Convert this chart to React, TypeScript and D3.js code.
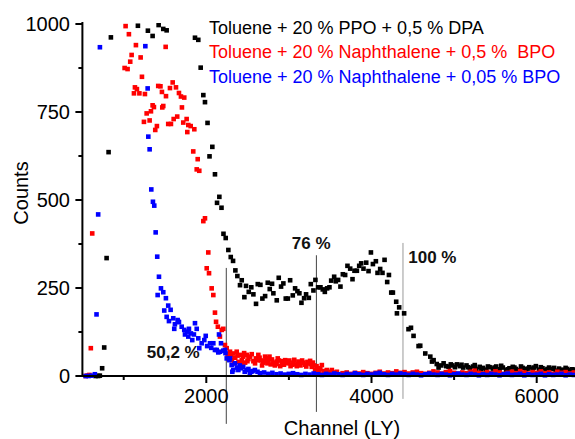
import React from "react";
import * as d3 from "d3";

// ---- data (channel, counts) ----
const blackSeries: [number, number][] = [
  [660, 0], [690, 0], [711, 1], [739, 22], [764, 81], [793, 335], [817, 636], [845, 962],
  [1172, 995], [1293, 981], [1350, 966], [1423, 997], [1479, 986], [1520, 982], [1863, 961], [1903, 955],
  [1932, 876], [1964, 798], [1984, 778], [2015, 719], [2039, 624], [2073, 651], [2105, 573], [2130, 492],
  [2158, 509], [2184, 478], [2208, 404], [2235, 392], [2267, 358], [2296, 338], [2324, 327], [2352, 300],
  [2376, 284], [2408, 258], [2429, 272], [2461, 224], [2481, 256], [2514, 239], [2545, 252], [2570, 232],
  [2602, 205], [2623, 261], [2655, 259], [2679, 220], [2712, 227], [2744, 265], [2768, 247], [2796, 262],
  [2812, 235], [2853, 215], [2877, 279], [2905, 254], [2933, 263], [2962, 220], [2987, 220], [3015, 272],
  [3047, 229], [3075, 249], [3103, 241], [3127, 235], [3152, 208], [3184, 221], [3208, 232], [3241, 222],
  [3265, 261], [3297, 243], [3321, 273], [3354, 252], [3382, 252], [3410, 246], [3435, 239], [3463, 249],
  [3491, 252], [3512, 271], [3548, 282], [3568, 269], [3596, 273], [3624, 254], [3653, 289], [3681, 287],
  [3709, 313], [3742, 305], [3770, 275], [3794, 299], [3823, 299], [3851, 313], [3875, 320], [3903, 305],
  [3936, 322], [3964, 298], [3993, 351], [4017, 318], [4053, 326], [4073, 293], [4105, 304], [4133, 293],
  [4158, 330], [4190, 267], [4211, 287], [4239, 237], [4259, 237], [4299, 211], [4308, 178], [4335, 195],
  [4395, 178], [4448, 133], [4478, 137], [4509, 114], [4570, 85], [4590, 86], [4651, 64], [4712, 55],
  [4732, 41], [4752, 45], [4790, 34], [4812, 24], [4845, 30], [4873, 36], [4905, 28], [4933, 26],
  [4960, 33], [4980, 30], [5010, 25], [5035, 33], [5070, 28], [5090, 32],
  [5110, 24], [5150, 30], [5170, 25], [5190, 22], [5230, 27], [5250, 31], [5270, 20], [5310, 26],
  [5330, 19], [5350, 23], [5390, 18], [5410, 27], [5430, 25], [5470, 21], [5490, 24], [5510, 27],
  [5550, 19], [5570, 29], [5590, 24], [5630, 17], [5650, 19], [5670, 22], [5710, 26], [5730, 24],
  [5750, 20], [5790, 16], [5810, 27], [5830, 23], [5870, 19], [5890, 21], [5910, 25], [5950, 21],
  [5970, 24], [5990, 28], [6030, 18], [6050, 25], [6070, 22], [6110, 17], [6130, 20], [6150, 24],
  [6190, 20], [6210, 23], [6230, 15], [6270, 21], [6290, 16], [6310, 18], [6350, 23], [6370, 20],
  [6390, 16], [6430, 19], [6450, 18], [6470, 14],
];

const redSeries: [number, number][] = [
  [540, 0], [560, 1], [585, 3], [602, 79], [619, 405],
  [1011, 875], [1023, 994], [1047, 872], [1063, 971], [1079, 893], [1096, 912], [1124, 803], [1136, 820],
  [1148, 940], [1160, 815], [1190, 803], [1205, 905], [1221, 850], [1245, 722], [1257, 801], [1278, 746],
  [1314, 726], [1330, 752], [1350, 769], [1366, 764], [1382, 699], [1402, 710], [1418, 824], [1445, 823],
  [1463, 807], [1467, 763], [1479, 767], [1508, 935], [1512, 795], [1539, 716], [1560, 818], [1572, 716],
  [1593, 834], [1605, 730], [1633, 820], [1648, 737], [1669, 804], [1693, 794], [1705, 763], [1721, 720],
  [1733, 791], [1762, 730], [1770, 693], [1782, 713], [1811, 710], [1842, 638], [1855, 701], [1884, 587],
  [1896, 616], [1915, 583], [1964, 440], [1984, 448], [2005, 306], [2024, 351], [2033, 292], [2065, 249],
  [2085, 230], [2105, 180], [2118, 154], [2140, 140], [2165, 112], [2187, 131], [2206, 134], [2226, 88],
  [2247, 79], [2258, 62], [2270, 50], [2287, 69], [2298, 58], [2310, 45], [2327, 64], [2338, 36],
  [2350, 52], [2368, 69], [2378, 58], [2390, 40], [2408, 60], [2418, 35], [2430, 46], [2448, 55],
  [2458, 65], [2470, 38], [2489, 60], [2498, 42], [2510, 48], [2530, 55], [2550, 62], [2570, 42],
  [2590, 36], [2600, 50], [2615, 45], [2630, 60], [2645, 52], [2660, 44], [2675, 30], [2690, 38],
  [2700, 42], [2711, 55], [2730, 50], [2740, 36], [2751, 45], [2765, 55], [2780, 33], [2795, 47],
  [2812, 38], [2830, 30], [2845, 34], [2853, 41], [2865, 50], [2880, 44], [2895, 28], [2914, 36],
  [2925, 42], [2940, 32], [2954, 45], [2970, 38], [2994, 36], [3005, 44], [3020, 28], [3035, 32],
  [3054, 38], [3065, 46], [3080, 33], [3095, 28], [3115, 41], [3125, 36], [3140, 30], [3160, 44],
  [3176, 38], [3195, 32], [3210, 27], [3225, 40], [3240, 36], [3257, 43], [3265, 34], [3277, 26],
  [3290, 38], [3300, 30], [3317, 17], [3335, 28], [3350, 22], [3365, 15], [3380, 20], [3399, 31],
  [3420, 14], [3459, 17], [3480, 12], [3520, 17], [3540, 10], [3581, 12], [3650, 8], [3700, 10], [3750, 6],
  [3800, 9], [3850, 7], [3900, 11], [3950, 8], [4000, 6], [4050, 9], [4100, 12], [4150, 7],
  [4200, 10], [4250, 8], [4300, 13], [4350, 9], [4400, 11], [4450, 7], [4500, 10], [4550, 12],
  [4600, 8], [4650, 6], [4700, 9], [4750, 13], [4800, 10], [4850, 7], [4900, 11], [4950, 14],
  [5000, 9], [5050, 6], [5100, 10], [5150, 8], [5200, 12], [5250, 15], [5300, 9], [5350, 7],
  [5400, 11], [5450, 8], [5500, 13], [5550, 10], [5600, 6], [5650, 9], [5700, 12], [5750, 8],
  [5800, 14], [5850, 10], [5900, 7], [5950, 11], [6000, 9], [6050, 13], [6100, 8], [6150, 10],
  [6200, 6], [6250, 12], [6300, 9], [6350, 11], [6400, 7], [6450, 10], [6500, 8],
];

const blueSeries: [number, number][] = [
  [540, 0], [575, 0], [610, 1], [651, 5], [671, 175], [691, 459], [712, 934],
  [1262, 937], [1290, 817], [1298, 680], [1314, 644], [1334, 530], [1354, 495], [1370, 484], [1387, 408],
  [1406, 339], [1411, 230], [1427, 282], [1451, 249], [1479, 238], [1491, 186], [1511, 221], [1520, 168],
  [1539, 200], [1548, 156], [1568, 188], [1600, 164], [1612, 134], [1620, 147], [1653, 159], [1661, 154],
  [1669, 153], [1702, 140], [1733, 131], [1742, 118], [1770, 126], [1782, 112], [1790, 134], [1814, 121],
  [1830, 102], [1850, 118], [1863, 150], [1884, 134], [1903, 107], [1915, 79], [1944, 93], [1976, 102],
  [1993, 114], [2010, 85], [2045, 93], [2060, 80], [2085, 93], [2105, 74], [2126, 74], [2145, 67],
  [2154, 118], [2166, 69], [2178, 93], [2206, 72], [2226, 74], [2232, 65], [2247, 50], [2279, 45],
  [2287, 50], [2307, 31], [2315, 12], [2327, 17], [2347, 36], [2370, 24], [2388, 17], [2405, 30],
  [2420, 22], [2447, 26], [2465, 12], [2487, 17], [2510, 20], [2527, 8], [2545, 12], [2560, 14],
  [2588, 17], [2620, 12], [2650, 8], [2700, 10], [2750, 6],
  [2800, 9], [2850, 5], [2900, 7], [2950, 4], [3000, 6], [3050, 8], [3100, 5], [3150, 3],
  [3200, 6], [3250, 4], [3300, 7], [3350, 5], [3400, 3], [3450, 6], [3500, 4], [3550, 7],
  [3600, 5], [3650, 3], [3700, 6], [3750, 4], [3800, 8], [3850, 5], [3900, 3], [3950, 6],
  [4000, 4], [4050, 7], [4100, 9], [4150, 5], [4200, 3], [4250, 6], [4300, 4], [4350, 7],
  [4400, 5], [4450, 3], [4500, 6], [4550, 4], [4600, 2], [4650, 5], [4700, 7], [4750, 4],
  [4800, 3], [4850, 6], [4900, 4], [4950, 2], [5000, 5], [5050, 7], [5100, 4], [5150, 3],
  [5200, 6], [5250, 4], [5300, 2], [5350, 5], [5400, 3], [5450, 6], [5500, 4], [5550, 2],
  [5600, 5], [5650, 7], [5700, 3], [5750, 4], [5800, 6], [5850, 2], [5900, 5], [5950, 3],
  [6000, 4], [6050, 6], [6100, 2], [6150, 5], [6200, 3], [6250, 4], [6300, 6], [6350, 2],
  [6400, 4], [6450, 3], [6500, 5],
];

const seriesNames = [
  "Toluene + 20 % PPO + 0,5 % DPA",
  "Toluene + 20 % Naphthalene + 0,5 %  BPO",
  "Toluene + 20 % Naphthalene + 0,05 % BPO",
];
const seriesColors = ["#000000", "#ff0000", "#0000ff"];

const xMajorTicks = [2000, 4000, 6000];
const xMinorTicks = [1000, 3000, 5000];
const yMajorTicks = [0, 250, 500, 750, 1000];
const yMinorTicks = [125, 375, 625, 875];

// annotation markers: channel of line, label text
const markerChannels = [2242, 3333, 4381];
const markerTops = [307, 343, 378];
const markerBottoms = [-136, -102, -65];
const markerLabels = ["50,2 %", "76 %", "100 %"];
const markerLabelChannels = [1280, 3035, 4445];
const markerLabelCounts = [51, 361, 321];
const markerColors = ["#444", "#444", "#999"];

const W = 575;
const H = 439;
const FONT = "'Liberation Sans', Arial, sans-serif";

export default function App() {
  const x = d3.scaleLinear().domain([500, 6500]).range([82.4, 578]);
  const y = d3.scaleLinear().domain([0, 1000]).range([376, 24]);
  const all = [blackSeries, redSeries, blueSeries];
  const ms = 4.6;

  return (
    <svg width={W} height={H} style={{ position: "absolute", left: 0, top: 0, background: "#fff" }}
      fontFamily={FONT}>
      <defs>
        <clipPath id="plotclip">
          <rect x={x(500)} y={y(1000) - 1} width={W} height={H} />
        </clipPath>
      </defs>
      <rect width={W} height={H} fill="#fff" />

      {/* marker lines */}
      {markerChannels.map((c, i) => (
        <line key={"ml" + i} x1={x(c)} x2={x(c)} y1={y(markerTops[i])} y2={y(markerBottoms[i])}
          stroke={markerColors[i]} strokeWidth={1} />
      ))}

      {/* data */}
      <g clipPath="url(#plotclip)">
        {all.map((s, si) => (
          <g key={"s" + si} fill={seriesColors[si]}>
            {s.map(([c, v], i) => (
              <rect key={i} x={x(c) - ms / 2} y={y(v) - ms / 2} width={ms} height={ms} />
            ))}
          </g>
        ))}
      </g>

      {/* axes */}
      <line x1={76} x2={W} y1={y(0)} y2={y(0)} stroke="#000" strokeWidth={2} />
      <line x1={x(500)} x2={x(500)} y1={y(1000) - 2} y2={y(0)} stroke="#000" strokeWidth={2} />
      {yMajorTicks.map((t) => (
        <g key={"ym" + t}>
          <line x1={x(500) - 7} x2={x(500)} y1={y(t)} y2={y(t)} stroke="#000" strokeWidth={2} />
          <text x={70} y={y(t)} dy="0.36em" textAnchor="end" fontSize={20}>{t}</text>
        </g>
      ))}
      {yMinorTicks.map((t) => (
        <line key={"yn" + t} x1={x(500) - 4} x2={x(500)} y1={y(t)} y2={y(t)} stroke="#000" strokeWidth={2} />
      ))}
      {xMajorTicks.map((t) => (
        <g key={"xm" + t}>
          <line x1={x(t)} x2={x(t)} y1={y(0)} y2={y(0) + 7} stroke="#000" strokeWidth={2} />
          <text x={x(t)} y={403} textAnchor="middle" fontSize={20}>{t}</text>
        </g>
      ))}
      {xMinorTicks.map((t) => (
        <line key={"xn" + t} x1={x(t)} x2={x(t)} y1={y(0)} y2={y(0) + 4} stroke="#000" strokeWidth={2} />
      ))}
      <text x={342} y={435} textAnchor="middle" fontSize={20}>Channel (LY)</text>
      <text transform="translate(28,193) rotate(-90)" textAnchor="middle" fontSize={20}>Counts</text>

      {/* legend */}
      {seriesNames.map((n, i) => (
        <text key={"lg" + i} x={209} y={33.8 + i * 24.4} fontSize={18} fill={seriesColors[i]}
          style={{ whiteSpace: "pre" }}>{n}</text>
      ))}

      {/* marker labels */}
      {markerLabels.map((l, i) => (
        <text key={"lb" + i} x={x(markerLabelChannels[i])} y={y(markerLabelCounts[i])} fontSize={17}
          fontWeight="bold" fill="#111">{l}</text>
      ))}
    </svg>
  );
}
